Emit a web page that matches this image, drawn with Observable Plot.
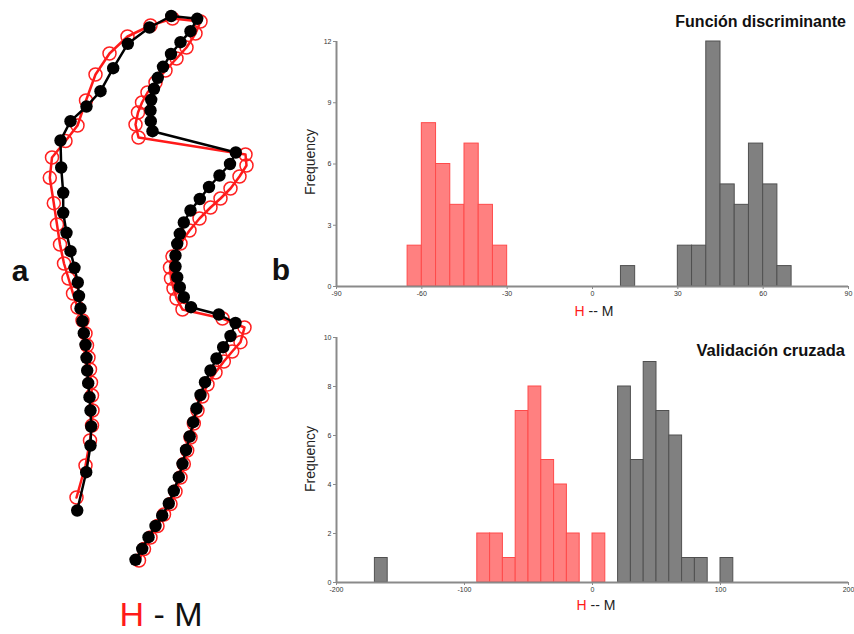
<!DOCTYPE html>
<html><head><meta charset="utf-8">
<script src="https://cdn.jsdelivr.net/npm/d3@7"></script>
<script src="https://cdn.jsdelivr.net/npm/@observablehq/plot@0.6"></script>
<style>
body{margin:0;background:#fff;font-family:"Liberation Sans",Arial,sans-serif;}
#root{position:relative;width:854px;height:634px;overflow:hidden;background:#fff;}
.abs{position:absolute;white-space:nowrap;line-height:1;}
</style></head><body><div id="root"></div>
<script>
// ---- Shape landmarks (panel a) ----
const blackX = [76.7,85.7,90,90.7,90,89,87.7,86.7,86,85,83.3,82,80,78.5,77.3,74,70,66,62.7,62.7,60.7,60,70,86,100,112.7,127.3,149,170.7,196.7,
  190,180,170.5,162.5,157.3,153.5,150.7,150,150.3,152,
  235.3,229.5,219,208.5,199.3,190,183.3,179.3,176.7,175,175,176.7,179.3,183.3,190.5,218.3,235,
  230,222.7,216,210,204.5,200,196,192.7,189.2,185.5,182,178.3,173.3,168.3,161.7,155,148,141.7,135];
const blackY = [510,471.7,445,426,410,396.7,382.7,370,357.3,344.3,332.7,320.7,308,295.5,282,267.3,250.7,232.3,212.3,192.3,167,140,120.7,106,90.7,67.7,43.3,27,15.5,18.3,
  30.7,41.7,53.5,66.3,77.3,88.3,99.3,110,120.7,130.7,
  152,163.5,175,186.5,198.5,210,222,233.3,243.3,255,266,276.7,286.7,296.7,306.7,314,322.5,
  335.5,346.7,358,370,381.7,394.5,408,421.7,436,449.5,463.3,476.7,490.3,503,515,525.5,536.7,548.3,559.3];
const redX = [76,85,89.5,91.5,92,91.5,90.5,89.5,88,86.5,85,82,77,72.5,68,63.5,59.5,56.5,53.3,49.3,51.5,65,77,85.5,95,109,127,150,172,200,
  195,186,176,165,155,147,141.5,137.5,135,138,
  245,246,239,230,220,210,199,189,180,172,169.5,170.5,173,176,182,222,244,
  240,231.7,223.3,215,207,201.7,197,193.3,190,186.7,183.3,180,175,170,163.5,157,150,143.5,138.5];
const redY = [497,465,440,425,410,395,382,369,357,345,333,320,307,293,278,263,244,224,202.7,177.3,157,140.5,125,100,74,53,36,25,18,21,
  33,47,58,70,82,92,102,112,124,137,
  154,165,176,188,198,207,218,230,243,256,267,278,288,298,309,318,327,
  341.7,351,361,372,384,396,410,423,437,450,463.5,477,491,503.5,514,525.5,537,548.5,560];

// ---- Histogram: Función discriminante (bin width 5) ----
const topRedStart = [-65,-60,-55,-50,-45,-40,-35];
const topRedCount = [2,8,6,4,7,4,2];
const topGrayStart = [10,30,35,40,45,50,55,60,65];
const topGrayCount = [1,2,2,12,5,4,7,5,1];
const topXTicks = [-90,-60,-30,0,30,60,90];
const topYTicks = [0,3,6,9,12];

// ---- Histogram: Validación cruzada (bin width 10) ----
const botRedStart = [-90,-80,-70,-60,-50,-40,-30,-20,0];
const botRedCount = [2,2,1,7,8,5,4,2,2];
const botGrayStart = [-170,20,30,40,50,60,70,80,100];
const botGrayCount = [1,8,5,9,7,6,1,1,1];
const botXTicks = [-200,-100,0,100,200];
const botYTicks = [0,2,4,6,8,10];

const root = document.getElementById("root");
function place(el, left, top){ el.style.position="absolute"; el.style.left=left+"px"; el.style.top=top+"px"; root.appendChild(el); }
function txt(html, css){ const d=document.createElement("div"); d.className="abs"; d.innerHTML=html; Object.assign(d.style, css); root.appendChild(d); return d; }

// Shape panel
const black = blackX.map((x,i)=>({x, y: blackY[i]}));
const red = redX.map((x,i)=>({x, y: redY[i]}));
const shape = Plot.plot({
  width: 260, height: 580, margin: 0,
  x: {domain: [0,260], axis: null},
  y: {domain: [0,580], reverse: true, axis: null},
  marks: [
    Plot.line(red, {x:"x", y:"y", stroke:"#ff1a1a", strokeWidth:2.5}),
    Plot.dot(red, {x:"x", y:"y", r:6.5, stroke:"#ff2020", strokeWidth:1.5, fill:"none"}),
    Plot.line(black, {x:"x", y:"y", stroke:"#000", strokeWidth:2.5}),
    Plot.dot(black, {x:"x", y:"y", r:6.2, fill:"#000", stroke:"none"})
  ]
});
place(shape, 0, 0);

function hist(redStart, redCount, grayStart, grayCount, binW, xDomain, xTicks, yDomain, yTicks){
  const r = redStart.map((x,i)=>({x, n: redCount[i]}));
  const g = grayStart.map((x,i)=>({x, n: grayCount[i]}));
  return Plot.plot({
    width: 564, height: 300,
    marginLeft: 46, marginRight: 6, marginTop: 11, marginBottom: 44,
    x: {domain: xDomain},
    y: {domain: yDomain},
    style: {fontFamily: '"Liberation Sans", Arial, sans-serif', fontSize: "7px", color: "#333", background: "transparent"},
    marks: [
      Plot.rectY(r, {x1:"x", x2: d=>d.x+binW, y:"n", fill:"#ff8080", stroke:"#ff4a4a", strokeWidth:1}),
      Plot.rectY(g, {x1:"x", x2: d=>d.x+binW, y:"n", fill:"#808080", stroke:"#505050", strokeWidth:1}),
      Plot.ruleY([yDomain[0]], {stroke:"#8a8a8a", strokeWidth:2}),
      Plot.ruleX([xDomain[0]], {stroke:"#8a8a8a", strokeWidth:2}),
      Plot.axisX({ticks: xTicks, tickFormat: d=>String(d), tickSize: 3, tickPadding: 2, label: null, stroke:"#8a8a8a", fill:"#333", fontSize: 7}),
      Plot.axisY({ticks: yTicks, tickFormat: d=>String(d), tickSize: 3, tickPadding: 2, label: null, stroke:"#8a8a8a", fill:"#333", fontSize: 7})
    ]
  });
}
place(hist(topRedStart, topRedCount, topGrayStart, topGrayCount, 5, [-90,90], topXTicks, [0,12], topYTicks), 290, 30);
place(hist(botRedStart, botRedCount, botGrayStart, botGrayCount, 10, [-200,200], botXTicks, [0,10], botYTicks), 290, 326);

// Texts
txt("Función discriminante", {right:"8px", top:"14px", fontSize:"16px", fontWeight:"bold", color:"#111"});
txt("Validación cruzada", {right:"9px", top:"342px", fontSize:"16.5px", fontWeight:"bold", color:"#111"});
txt("Frequency", {left:"310px", top:"162px", fontSize:"14px", color:"#222", transform:"translate(-50%,-50%) rotate(-90deg)"});
txt("Frequency", {left:"310px", top:"459px", fontSize:"14px", color:"#222", transform:"translate(-50%,-50%) rotate(-90deg)"});
txt('<span style="color:#ff1a1a">H</span> -- M', {left:"594px", top:"311px", fontSize:"14px", color:"#222", transform:"translate(-50%,-50%)"});
txt('<span style="color:#ff1a1a">H</span> -- M', {left:"596px", top:"605px", fontSize:"14px", color:"#222", transform:"translate(-50%,-50%)"});
txt("a", {left:"20px", top:"271px", fontSize:"30px", fontWeight:"bold", color:"#111", transform:"translate(-50%,-50%)"});
txt("b", {left:"281px", top:"270px", fontSize:"30px", fontWeight:"bold", color:"#111", transform:"translate(-50%,-50%)"});
txt('<span style="color:#ff1a1a">H</span> - M', {left:"161px", top:"614px", fontSize:"34px", color:"#111", transform:"translate(-50%,-50%)"});
</script></body></html>
